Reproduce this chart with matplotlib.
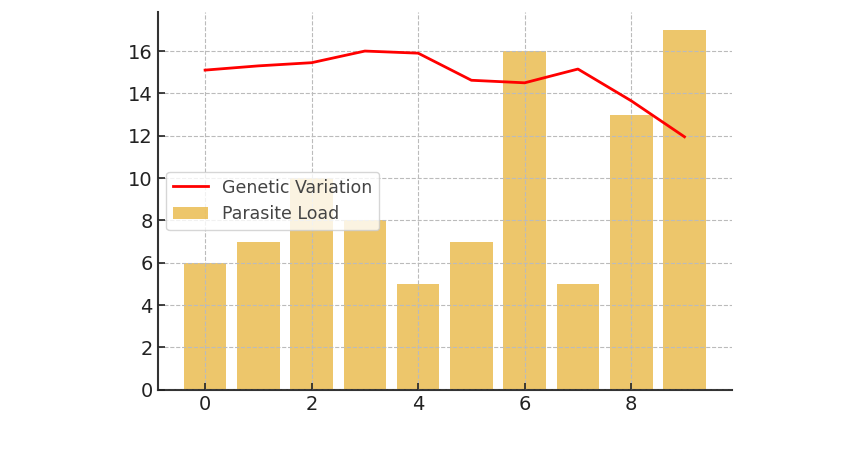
import numpy as np
import matplotlib
matplotlib.use("Agg")
import matplotlib.pyplot as plt

# data
samples = np.arange(10)
parasite_load = [6, 7, 10, 8, 5, 7, 16, 5, 13, 17]
genetic_variation = [15.1, 15.3, 15.45, 16.0, 15.9, 14.62, 14.5, 15.15, 13.65, 11.95]

fig = plt.figure(figsize=(8.57, 4.57), dpi=100)
ax = fig.add_axes([0.184, 0.147, 0.67, 0.827])

ax.bar(samples, parasite_load, color="#E8B339", alpha=0.75, label="Parasite Load")
ax.plot(samples, genetic_variation, color="red", linewidth=2, label="Genetic Variation", zorder=3)

ax.grid(True, linestyle="--", color="#bbbbbb", linewidth=0.8)
ax.set_axisbelow(False)
for side in ["top", "right"]:
    ax.spines[side].set_visible(False)
for side in ["left", "bottom"]:
    ax.spines[side].set_linewidth(1.5)
    ax.spines[side].set_color("#333333")
ax.tick_params(direction="in", labelsize=14, length=5, width=1.2, colors="#222222")
ax.set_yticks(range(0, 17, 2))

leg = ax.legend(loc="center left", fontsize=12.5, framealpha=0.8)
for t in leg.get_texts():
    t.set_color("#444444")

fig.savefig("out.png", dpi=100)
